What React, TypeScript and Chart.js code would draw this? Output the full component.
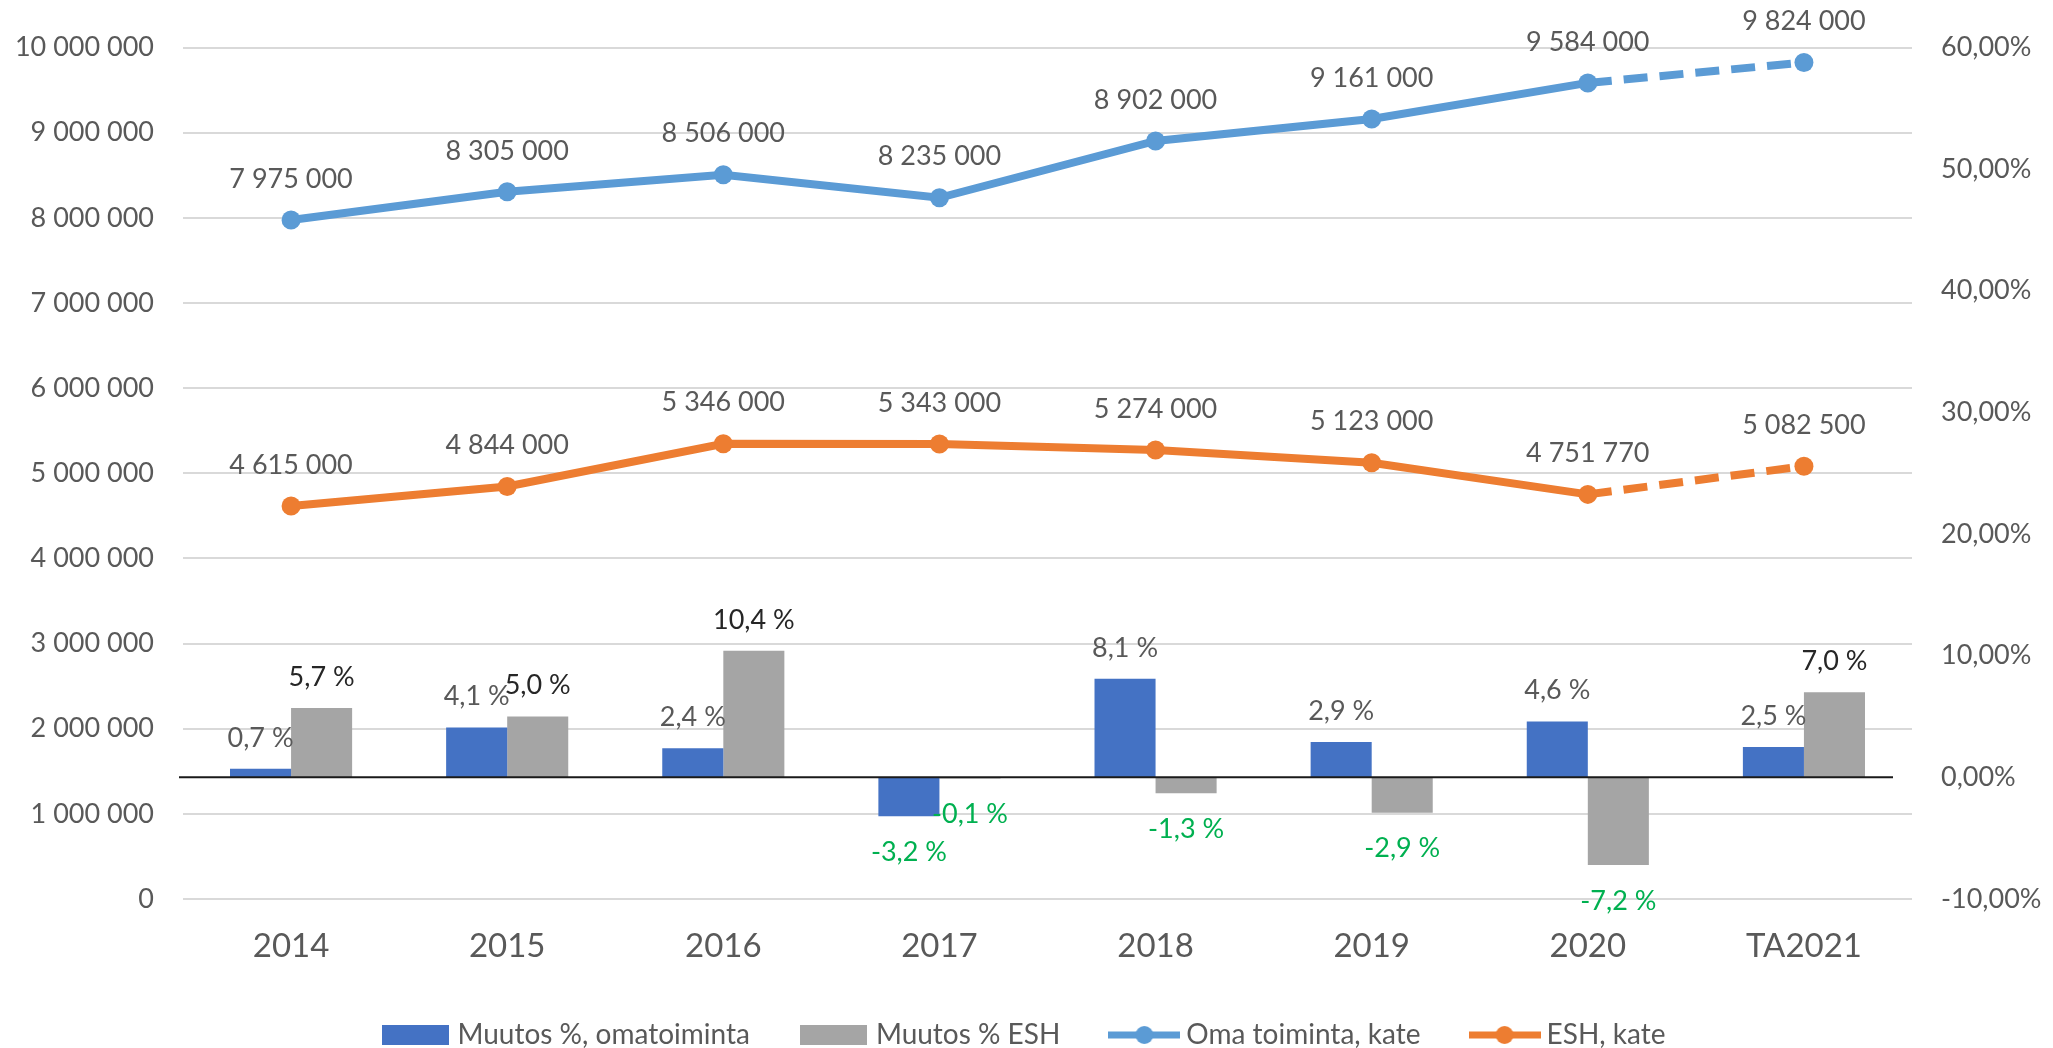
import { useEffect, useRef } from 'react';
import { Chart, registerables } from 'chart.js';

Chart.register(...registerables);

const categories = ['2014', '2015', '2016', '2017', '2018', '2019', '2020', 'TA2021'];
const changeOwn = [0.7, 4.1, 2.4, -3.2, 8.1, 2.9, 4.6, 2.5];
const changeEsh = [5.7, 5.0, 10.4, -0.1, -1.3, -2.9, -7.2, 7.0];
const ownMargin = [7975000, 8305000, 8506000, 8235000, 8902000, 9161000, 9584000, 9824000];
const eshMargin = [4615000, 4844000, 5346000, 5343000, 5274000, 5123000, 4751770, 5082500];
const seriesNames = ['Muutos %, omatoiminta', 'Muutos % ESH', 'Oma toiminta, kate', 'ESH, kate'];
const leftAxis = { min: 0, max: 10000000, step: 1000000 };
const rightAxis = { min: -10, max: 60, step: 10 };

const FONT = 'Lato, "Open Sans", sans-serif';
const TEXT = '#595959';
const BLUE_BAR = '#4472C4';
const GREY_BAR = '#A5A5A5';
const BLUE_LINE = '#5B9BD5';
const ORANGE_LINE = '#ED7D31';
const GREEN = '#00B050';

const fmtThousands = (n: number) => Math.round(n).toString().replace(/\B(?=(\d{3})+(?!\d))/g, ' ');
const fmtPct = (n: number) => n.toFixed(1).replace('.', ',') + ' %';

function makeBox(color: string, w: number, h: number) {
  const c = document.createElement('canvas');
  c.width = w;
  c.height = h;
  const g = c.getContext('2d')!;
  g.fillStyle = color;
  g.fillRect(0, 0, w, h);
  return c;
}

function makeLine(color: string, w: number, h: number) {
  const c = document.createElement('canvas');
  c.width = w;
  c.height = h;
  const g = c.getContext('2d')!;
  g.strokeStyle = color;
  g.lineWidth = 7;
  g.beginPath();
  g.moveTo(0, h / 2);
  g.lineTo(w, h / 2);
  g.stroke();
  g.beginPath();
  g.arc(w / 2, h / 2, 9, 0, Math.PI * 2);
  g.fillStyle = color;
  g.fill();
  return c;
}

const labelPlugin = {
  id: 'valueLabels',
  afterDatasetsDraw(chart: any) {
    const ctx = chart.ctx;
    ctx.save();
    ctx.textAlign = 'center';
    ctx.textBaseline = 'middle';
    ctx.font = `27px ${FONT}`;
    chart.data.datasets.forEach((ds: any, di: number) => {
      const meta = chart.getDatasetMeta(di);
      meta.data.forEach((el: any, i: number) => {
        const v = ds.data[i];
        if (ds.type === 'line') {
          ctx.fillStyle = TEXT;
          ctx.fillText(fmtThousands(v), el.x, el.y - 41);
        } else {
          if (v >= 0) {
            ctx.fillStyle = di === 0 ? TEXT : '#262626';
            ctx.fillText(fmtPct(v), el.x, el.y - 31);
          } else {
            ctx.fillStyle = GREEN;
            ctx.fillText(fmtPct(v), el.x, el.y + 36);
          }
        }
      });
    });
    ctx.restore();
  },
};

const zeroLinePlugin = {
  id: 'zeroLine',
  afterDatasetsDraw(chart: any) {
    const { ctx, chartArea, scales } = chart;
    const y = scales.y1.getPixelForValue(0);
    ctx.save();
    ctx.strokeStyle = '#1a1a1a';
    ctx.lineWidth = 2;
    ctx.beginPath();
    ctx.moveTo(chartArea.left - 4, y);
    ctx.lineTo(chartArea.right - 19, y);
    ctx.stroke();
    ctx.restore();
  },
};

export default function App() {
  const ref = useRef<HTMLCanvasElement>(null);

  useEffect(() => {
    document.body.style.margin = '0';
    document.body.style.overflow = 'hidden';
    let chart: Chart | null = null;
    let cancelled = false;

    const build = () => {
      if (cancelled || !ref.current) return;
      const swatches = [
        makeBox(BLUE_BAR, 67, 20),
        makeBox(GREY_BAR, 67, 20),
        makeLine(BLUE_LINE, 72, 20),
        makeLine(ORANGE_LINE, 72, 20),
      ];
      const colors = [BLUE_BAR, GREY_BAR, BLUE_LINE, ORANGE_LINE];
      const last = categories.length - 1;

      chart = new Chart(ref.current, {
        type: 'bar',
        data: {
          labels: categories,
          datasets: [
            {
              type: 'bar',
              label: seriesNames[0],
              data: changeOwn,
              backgroundColor: BLUE_BAR,
              yAxisID: 'y1',
              categoryPercentage: 0.565,
              barPercentage: 1,
              order: 2,
            },
            {
              type: 'bar',
              label: seriesNames[1],
              data: changeEsh,
              backgroundColor: GREY_BAR,
              yAxisID: 'y1',
              categoryPercentage: 0.565,
              barPercentage: 1,
              order: 2,
            },
            {
              type: 'line',
              label: seriesNames[2],
              data: ownMargin,
              borderColor: BLUE_LINE,
              backgroundColor: BLUE_LINE,
              borderWidth: 8,
              pointRadius: 9.5,
              pointBorderWidth: 0,
              pointBackgroundColor: BLUE_LINE,
              yAxisID: 'y',
              tension: 0,
              order: 1,
              segment: {
                borderDash: (c: any) => (c.p1DataIndex === last ? [24, 12] : undefined),
              },
            },
            {
              type: 'line',
              label: seriesNames[3],
              data: eshMargin,
              borderColor: ORANGE_LINE,
              backgroundColor: ORANGE_LINE,
              borderWidth: 8,
              pointRadius: 9.5,
              pointBorderWidth: 0,
              pointBackgroundColor: ORANGE_LINE,
              yAxisID: 'y',
              tension: 0,
              order: 1,
              segment: {
                borderDash: (c: any) => (c.p1DataIndex === last ? [24, 12] : undefined),
              },
            },
          ] as any,
        },
        options: {
          animation: false,
          responsive: false,
          devicePixelRatio: 1,
          layout: { padding: { top: 47.5, left: 0, right: 0, bottom: -11 } },
          plugins: {
            tooltip: { enabled: false },
            legend: {
              position: 'bottom',
              labels: {
                usePointStyle: true,
                pointStyleWidth: 56,
                padding: 56,
                color: TEXT,
                font: { family: FONT, size: 28 },
                generateLabels: () =>
                  seriesNames.map((name, i) => ({
                    text: name,
                    fillStyle: colors[i],
                    strokeStyle: colors[i],
                    lineWidth: 0,
                    pointStyle: swatches[i],
                    hidden: false,
                    datasetIndex: i,
                    fontColor: TEXT,
                  })),
              },
            },
          },
          scales: {
            x: {
              type: 'category',
              grid: { display: false },
              border: { display: false },
              ticks: { color: TEXT, font: { family: FONT, size: 33 }, padding: 20 },
              afterFit: (s: any) => {
                s.height = 66;
              },
            },
            y: {
              type: 'linear',
              position: 'left',
              min: leftAxis.min,
              max: leftAxis.max,
              grid: { color: '#D9D9D9', lineWidth: 2, drawTicks: false },
              border: { display: false },
              ticks: {
                stepSize: leftAxis.step,
                color: TEXT,
                padding: 29,
                font: { family: FONT, size: 27 },
                callback: (v: any) => fmtThousands(Number(v)),
              },
              afterFit: (s: any) => {
                s.width = 183;
              },
            },
            y1: {
              type: 'linear',
              position: 'right',
              min: rightAxis.min,
              max: rightAxis.max,
              grid: { display: false, drawTicks: false },
              border: { display: false },
              ticks: {
                stepSize: rightAxis.step,
                color: TEXT,
                padding: 29,
                font: { family: FONT, size: 27 },
                callback: (v: any) => Number(v).toFixed(2).replace('.', ',') + '%',
              },
              afterFit: (s: any) => {
                s.width = 141;
              },
            },
          },
        } as any,
        plugins: [labelPlugin, zeroLinePlugin],
      });
    };

    const fontsReady = (document as any).fonts
      ? Promise.all([
          (document as any).fonts.load(`27px Lato`),
          (document as any).fonts.load(`33px Lato`),
        ]).catch(() => null)
      : Promise.resolve(null);
    fontsReady.then(build);

    return () => {
      cancelled = true;
      if (chart) chart.destroy();
    };
  }, []);

  return (
    <div style={{ width: 2053, height: 1048, background: '#fff' }}>
      <canvas ref={ref} width={2053} height={1048} style={{ display: 'block' }} />
    </div>
  );
}
